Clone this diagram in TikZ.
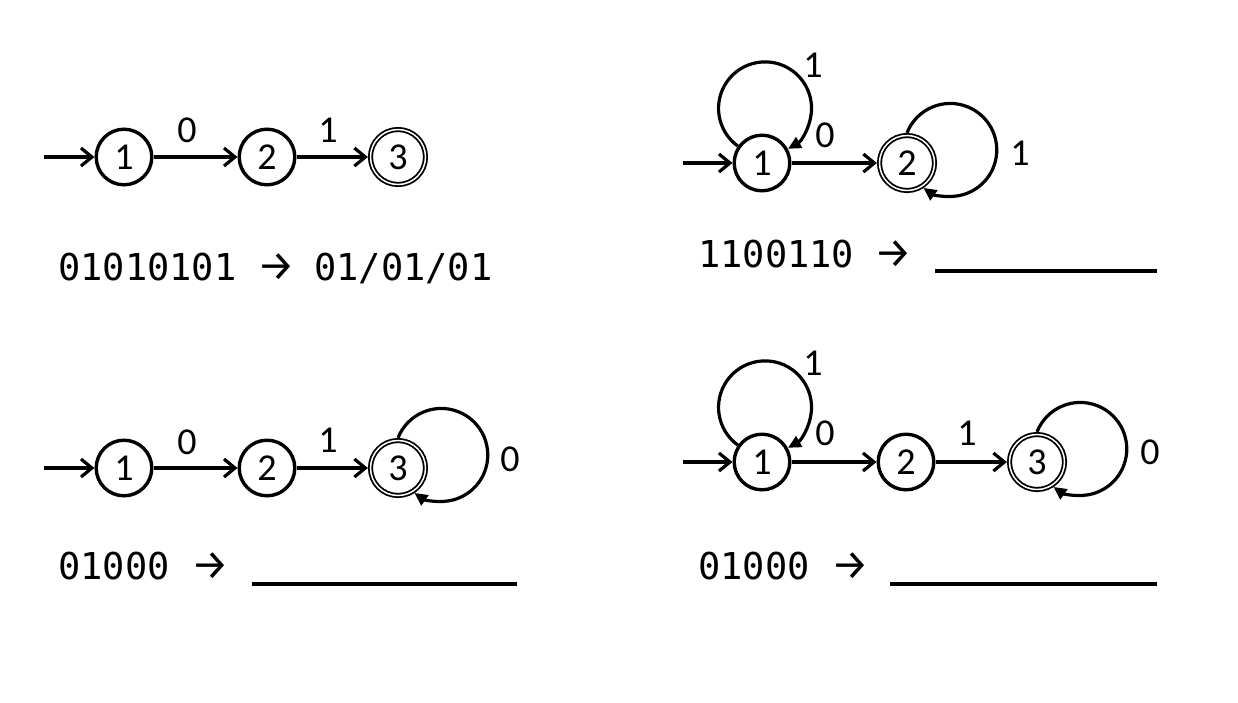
\documentclass[tikz,border=0pt]{standalone}
\usepackage{fontspec}
\setmainfont{Carlito}
\setmonofont{DejaVu Sans Mono}
\newfontfamily\arrowfont{Fira Sans}
\usetikzlibrary{arrows.meta}
\begin{document}
\begin{tikzpicture}[x=1pt,y=1pt,
  state/.style={circle,draw,line width=3.4pt,minimum size=55.6pt,inner sep=0pt,font=\fontsize{38}{40}\selectfont},
  accept/.style={circle,draw,line width=1.8pt,double=white,double distance=1.5pt,minimum size=55pt,inner sep=0pt,outer sep=2.6pt,font=\fontsize{38}{40}\selectfont},
  tr/.style={line width=3.2pt,-{Straight Barb[length=11pt,width=18pt]}},
  selfloop/.style={line width=3.2pt,-{Triangle[length=13pt,width=12pt]}},
  lbl/.style={font=\fontsize{38}{40}\selectfont,inner sep=0pt},
  mono/.style={font=\ttfamily\fontsize{37}{40}\selectfont,inner sep=0pt,anchor=base west},
  monoarrow/.style={font=\arrowfont\fontsize{42}{42}\selectfont,inner sep=0pt,anchor=base},
  ul/.style={line width=3.2pt}
]
\path[use as bounding box] (0,0) rectangle (1238,-702);

% Panel 1
\coordinate (i1) at (44,-157);
\node[state]  (a1) at (124,-157) {1};
\node[state]  (a2) at (267,-157) {2};
\node[accept] (a3) at (398,-157) {3};
\draw[tr] (i1) -- (a1);
\draw[tr] (a1) -- (a2);
\draw[tr] (a2) -- (a3);
\node[lbl] (la1) at (187,-130) {0};
\node[lbl] (la2) at (328,-130) {1};
\node[mono] (t1a) at (58,-280) {01010101};
\node[monoarrow] (t1b) at (276,-280) {→};
\node[mono] (t1c) at (314,-280) {01/01/01};

% Panel 2
\coordinate (i2) at (683,-163);
\node[state]  (b1) at (762,-163) {1};
\node[accept] (b2) at (907,-163) {2};
\draw[tr] (i2) -- (b1);
\draw[tr] (b1) -- (b2);
\draw[selfloop] (b1.145) arc[start angle=234.2,end angle=-60.5,radius=46.5];
\draw[selfloop] (b2.90) arc[start angle=158.5,end angle=-125.3,radius=46.5];
\node[lbl] (lb1) at (813,-65) {1};
\node[lbl] (lb2) at (825,-135) {0};
\node[lbl] (lb3) at (1020,-153) {1};
\node[mono] (t2a) at (698,-267) {1100110};
\node[monoarrow] (t2b) at (893,-267) {→};
\draw[ul] (935,-271) -- (1157,-271);

% Panel 3
\coordinate (i3) at (44,-468);
\node[state]  (c1) at (124,-468) {1};
\node[state]  (c2) at (267,-468) {2};
\node[accept] (c3) at (398,-468) {3};
\draw[tr] (i3) -- (c1);
\draw[tr] (c1) -- (c2);
\draw[tr] (c2) -- (c3);
\draw[selfloop] (c3.90) arc[start angle=158.5,end angle=-125.3,radius=46.5];
\node[lbl] (lc1) at (187,-442) {0};
\node[lbl] (lc2) at (328,-440) {1};
\node[lbl] (lc3) at (510,-459) {0};
\node[mono] (t3a) at (58,-579) {01000};
\node[monoarrow] (t3b) at (210,-579) {→};
\draw[ul] (252,-584) -- (517,-584);

% Panel 4
\coordinate (i4) at (683,-462);
\node[state]  (d1) at (762,-462) {1};
\node[state]  (d2) at (906,-462) {2};
\node[accept] (d3) at (1037,-462) {3};
\draw[tr] (i4) -- (d1);
\draw[tr] (d1) -- (d2);
\draw[tr] (d2) -- (d3);
\draw[selfloop] (d1.145) arc[start angle=234.2,end angle=-60.5,radius=46.5];
\draw[selfloop] (d3.90) arc[start angle=158.5,end angle=-125.3,radius=46.5];
\node[lbl] (ld1) at (813,-363) {1};
\node[lbl] (ld2) at (825,-433) {0};
\node[lbl] (ld3) at (967,-433) {1};
\node[lbl] (ld4) at (1150,-452) {0};
\node[mono] (t4a) at (698,-579) {01000};
\node[monoarrow] (t4b) at (850,-579) {→};
\draw[ul] (890,-584) -- (1157,-584);
\end{tikzpicture}
\end{document}
